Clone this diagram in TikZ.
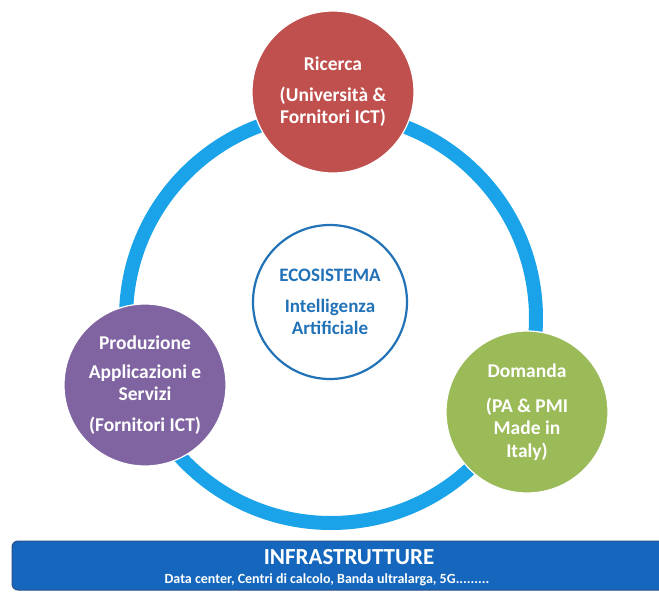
\documentclass[tikz,border=0pt]{standalone}
\usepackage{fontspec}
\setmainfont{Carlito}
\definecolor{ringblue}{HTML}{1AA3E8}
\definecolor{redc}{HTML}{C0504D}
\definecolor{purplec}{HTML}{8064A2}
\definecolor{greenc}{HTML}{9BBB59}
\definecolor{centerblue}{HTML}{2272B8}
\definecolor{bannerblue}{HTML}{1467BD}
\definecolor{bannerborder}{HTML}{2B4F86}
\begin{document}
\begin{tikzpicture}[x=1pt,y=-1pt,
  bigc/.style={circle,minimum size=162pt,inner sep=0pt,draw=white,line width=1.2pt,
    text=white,font=\fontsize{19.5}{22.5}\selectfont\bfseries,align=center},
  centc/.style={circle,minimum size=154pt,inner sep=0pt,draw=centerblue,line width=2.2pt,fill=white,
    text=centerblue,font=\fontsize{19}{22}\selectfont\bfseries,align=center}]
\useasboundingbox (0,0) rectangle (659,592);
\clip (0,0) rectangle (659,592);
\fill[white] (0,0) rectangle (659,592);
% ring
\coordinate (ringc) at (331,318);
\draw[ringblue,line width=14pt] (ringc) circle[radius=205];
% centre
\node[centc] (eco) at (330,302) {ECOSISTEMA\\[9pt]Intelligenza\\Artificiale};
% three circles
\node[bigc,fill=redc] (ric) at (333,92) {Ricerca\\[8pt](Università \&\\Fornitori ICT)};
\node[bigc,fill=purplec] (prod) at (145,385) {Produzione\\[6pt]Applicazioni e\\Servizi\\[8pt](Fornitori ICT)};
\node[bigc,fill=greenc] (dom) at (527,412) {Domanda\\[12pt](PA \& PMI\\Made in\\Italy)};
% banner
\draw[fill=bannerblue,draw=bannerborder,line width=1pt,rounded corners=6pt] (12,541) rectangle (672,590);
\node[text=white,font=\fontsize{23}{26}\selectfont\bfseries] (infra) at (349,557) {INFRASTRUTTURE};
\node[text=white,font=\fontsize{14}{16}\selectfont\bfseries] (infrasub) at (327,580) {Data center, Centri di calcolo, Banda ultralarga, 5G.........};
\end{tikzpicture}
\end{document}
